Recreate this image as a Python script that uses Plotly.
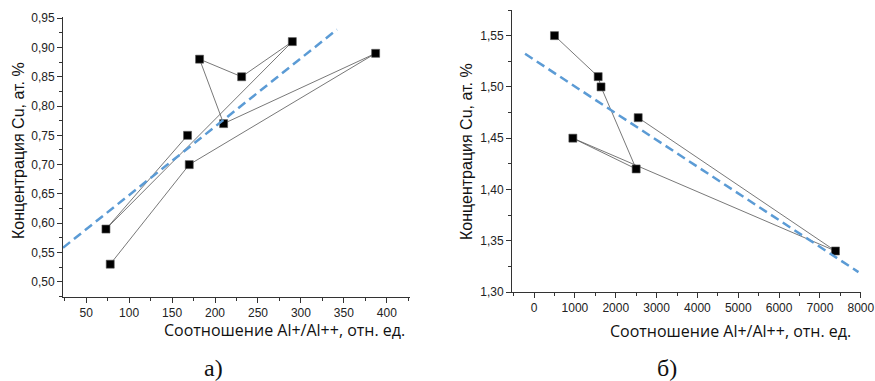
import numpy as np
import plotly.graph_objects as go

W, H = 875, 381

# Panel a)
ratio_a = [78, 170, 387, 210, 182, 231, 290, 73, 168]
cu_a = [0.53, 0.70, 0.89, 0.77, 0.88, 0.85, 0.91, 0.59, 0.75]
fit_span_a = [23, 342]

# Panel b)
ratio_b = [500, 1570, 1640, 2500, 950, 7380, 2550]
cu_b = [1.55, 1.51, 1.50, 1.42, 1.45, 1.34, 1.47]
fit_span_b = [-220, 7943]

ytitle = "Концентрация Cu, ат. %"
xtitle = "Соотношение Al+/Al++, отн. ед."
panel_labels = ["а)", "б)"]

def fit(xs, ys, span):
    k, b = np.polyfit(xs, ys, 1)
    sx = np.array(span, dtype=float)
    return sx, k * sx + b

fig = go.Figure()

line_style = dict(color="#555555", width=0.8)
marker_style = dict(symbol="square", size=8, color="black", line=dict(color="#555", width=0.6))
fit_style = dict(color="#5b9bd5", width=2.5, dash="9px,5px")

fig.add_trace(go.Scatter(x=ratio_a, y=cu_a, mode="lines+markers", line=line_style,
                         marker=marker_style, xaxis="x", yaxis="y", showlegend=False))
fx, fy = fit(ratio_a, cu_a, fit_span_a)
fig.add_trace(go.Scatter(x=fx, y=fy, mode="lines", line=fit_style, xaxis="x", yaxis="y",
                         showlegend=False))

fig.add_trace(go.Scatter(x=ratio_b, y=cu_b, mode="lines+markers", line=line_style,
                         marker=marker_style, xaxis="x2", yaxis="y2", showlegend=False))
fx2, fy2 = fit(ratio_b, cu_b, fit_span_b)
fig.add_trace(go.Scatter(x=fx2, y=fy2, mode="lines", line=fit_style, xaxis="x2", yaxis="y2",
                         showlegend=False))

tickfont = dict(family="Liberation Sans, Arial", size=12, color="#222")

def axis_common():
    return dict(showline=True, linecolor="#333", linewidth=1, ticks="outside", ticklen=5,
                tickcolor="#333", showgrid=False, zeroline=False, tickfont=tickfont, mirror=False,
                automargin=False)

xa = axis_common()
xa.update(domain=[63 / W, 410 / W], range=[23, 427], tick0=0, dtick=50, anchor="y",
          minor=dict(ticks="outside", ticklen=3, dtick=25, tick0=0, tickcolor="#333"))
ya = axis_common()
ya.update(domain=[1 - 297 / H, 1 - 17 / H], range=[0.474, 0.952], tick0=0, dtick=0.05,
          tickformat=".2f", anchor="x",
          minor=dict(ticks="outside", ticklen=3, dtick=0.025, tick0=0, tickcolor="#333"))
xb = axis_common()
xb.update(domain=[512 / W, 861 / W], range=[-540, 8005], tick0=0, dtick=1000, anchor="y2",
          minor=dict(ticks="outside", ticklen=3, dtick=500, tick0=0, tickcolor="#333"))
yb = axis_common()
yb.update(domain=[1 - 292 / H, 1 - 10 / H], range=[1.30, 1.575], tick0=0, dtick=0.05,
          tickformat=".2f", anchor="x2",
          minor=dict(ticks="outside", ticklen=3, dtick=0.025, tick0=0, tickcolor="#333"))

def px(x, y):
    return x / W, 1 - y / H

annotations = []
for (cx, cy) in [(18, 151), (466, 152)]:
    ax_, ay_ = px(cx, cy)
    annotations.append(dict(x=ax_, y=ay_, xref="paper", yref="paper", text=ytitle, showarrow=False,
                            textangle=-90, font=dict(family="Liberation Sans, Arial", size=16, color="#111"),
                            xanchor="center", yanchor="middle"))
for (cx, cy) in [(284, 330), (730, 331)]:
    ax_, ay_ = px(cx, cy)
    annotations.append(dict(x=ax_, y=ay_, xref="paper", yref="paper", text=xtitle, showarrow=False,
                            font=dict(family="Open Sans", size=16, color="#111"),
                            xanchor="center", yanchor="middle"))
for lab, (cx, cy) in zip(panel_labels, [(213, 368), (667, 368)]):
    ax_, ay_ = px(cx, cy)
    annotations.append(dict(x=ax_, y=ay_, xref="paper", yref="paper", text=lab, showarrow=False,
                            font=dict(family="Liberation Serif", size=24, color="#111"),
                            xanchor="center", yanchor="middle"))

fig.update_layout(width=W, height=H, margin=dict(l=0, r=0, t=0, b=0, autoexpand=False),
                  paper_bgcolor="white", plot_bgcolor="white", separators=", ",
                  xaxis=xa, yaxis=ya, xaxis2=xb, yaxis2=yb, annotations=annotations)

fig.write_html("out.html")
